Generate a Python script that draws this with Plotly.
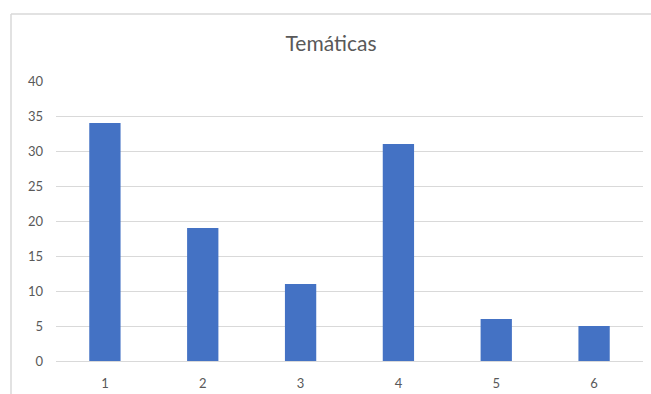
import plotly.graph_objects as go

categories = ["1", "2", "3", "4", "5", "6"]
values = [34, 19, 11, 31, 6, 5]
y_ticks = [0, 5, 10, 15, 20, 25, 30, 35, 40]

W, H = 651, 394
ml, mr, mt, mb = 56, 8, 81, 33
pw, ph = W - ml - mr, H - mt - mb

def px_x(x):
    return (x - ml) / pw

def px_y(y):
    return (H - mb - y) / ph

fig = go.Figure(
    go.Bar(
        x=categories,
        y=values,
        marker=dict(color="#4472C4", line=dict(width=0)),
        width=0.32,
    )
)

border = "#d9d9d9"
fig.update_layout(
    width=W,
    height=H,
    margin=dict(l=ml, r=mr, t=mt, b=mb),
    paper_bgcolor="white",
    plot_bgcolor="white",
    showlegend=False,
    font=dict(family="Lato, 'Open Sans', sans-serif", color="#595959", size=13),
    title=dict(
        text="Temáticas",
        x=0.5 * (W + 11) / W,
        xanchor="center",
        y=1 - 44 / H,
        yanchor="middle",
        font=dict(size=21, color="#595959"),
    ),
    xaxis=dict(
        type="category",
        automargin=False,
        showgrid=False,
        showline=True,
        linecolor=border,
        linewidth=1,
        ticks="",
        ticklabelstandoff=10,
        tickfont=dict(size=13, color="#595959"),
    ),
    yaxis=dict(
        range=[0, 40],
        tickvals=y_ticks,
        automargin=False,
        showgrid=True,
        gridcolor=border,
        gridwidth=1,
        zeroline=False,
        showline=False,
        ticks="",
        ticklabelstandoff=12,
        tickfont=dict(size=13, color="#595959"),
    ),
    shapes=[
        dict(type="line", xref="paper", yref="paper",
             x0=px_x(11), x1=px_x(W + 5), y0=px_y(14), y1=px_y(14),
             line=dict(color=border, width=1.5)),
        dict(type="line", xref="paper", yref="paper",
             x0=px_x(11), x1=px_x(11), y0=px_y(14), y1=px_y(H + 5),
             line=dict(color=border, width=1.5)),
    ],
)

fig.write_html("out.html")
